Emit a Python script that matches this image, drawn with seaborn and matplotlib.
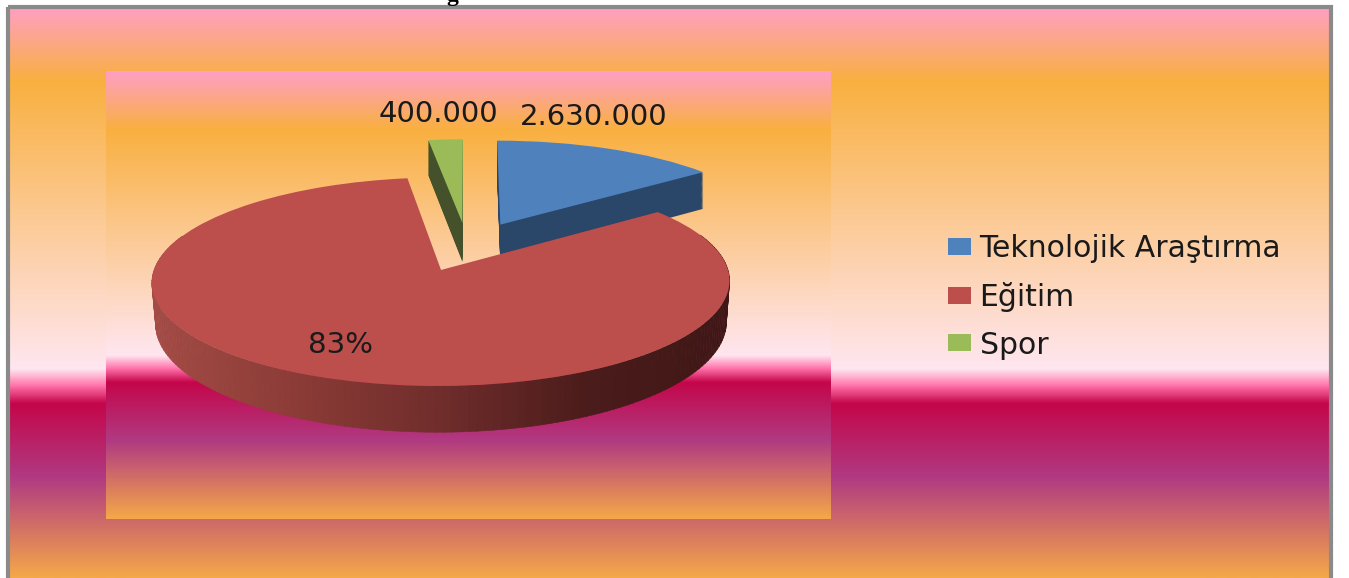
import numpy as np
import matplotlib
matplotlib.use("Agg")
import matplotlib.pyplot as plt
import seaborn as sns
from matplotlib.patches import Polygon, Rectangle, Wedge
from matplotlib.transforms import Transform

categories = ["Teknolojik Araştırma", "Eğitim", "Spor"]
values = [2630000, 14800000, 400000]
value_labels = ["2.630.000", "83%", "400.000"]
top_colors = ["#4F81BD", "#BC4E4C", "#9BBB59"]
wall_colors = ["#2A4668", None, "#44512B"]
red_wall_colors = ["#A34B45", "#8B3B36", "#6F2D2B", "#4B1C1B", "#3F1716"]

# background gradient, shared by the outer panel and the plot area
bg_stops = [(0.0, "#FF9FC4"), (0.13, "#F9B040"), (0.635, "#FFE6F0"),
            (0.665, "#FF6FA8"), (0.695, "#C4064A"), (0.825, "#B03A82"),
            (1.0, "#F5A848")]

W, H = 1349, 578
DEPTH = 40


class PieProjection(Transform):
    """Tilted view of the unit pie, with pixels as output."""
    input_dims = 2
    output_dims = 2

    def __init__(self, drop=0, shrink=0):
        super().__init__()
        self.drop = drop
        self.shrink = shrink

    def transform_non_affine(self, values):
        x, y = np.asarray(values).T
        w = 1 + 0.11 * y
        px = 467.4 + 280 * x / w * (1 - self.shrink * self.drop)
        py = 247.7 - 98 * y / w + self.drop / w
        return np.column_stack([px, py])


sns.set_theme(style="white")
plt.rcParams["font.family"] = ["DejaVu Sans"]

fig = plt.figure(figsize=(W / 100, H / 100), dpi=100)
ax = fig.add_axes([0, 0, 1, 1])

bg_cmap = matplotlib.colors.LinearSegmentedColormap.from_list("bg", bg_stops, N=512)
grad = np.linspace(0, 1, 512).reshape(-1, 1)
outer = ax.imshow(grad, cmap=bg_cmap, extent=(8, 1331, 578, 6), aspect="auto", zorder=0)
inner = ax.imshow(grad, cmap=bg_cmap, extent=(106, 831, 519, 71), aspect="auto", zorder=1)
ax.add_patch(Rectangle((7.5, 6.5), 1323, 580, fill=False, ec="#8A8A8A", lw=3, zorder=2))

wedges, _ = ax.pie(values, colors=top_colors, startangle=90, counterclock=False,
                   explode=[0.27, 0.24, 0.26], radius=1)
proj = PieProjection()
for w in wedges:
    w.set_transform(proj + ax.transData)
    w.set_linewidth(0)

# blue and green side walls are stacks of the same wedge
for i, z in [(0, 4), (2, 4)]:
    w = wedges[i]
    for drop in range(DEPTH, 0, -1):
        ax.add_patch(Wedge(w.center, w.r, w.theta1, w.theta2, color=wall_colors[i],
                           lw=0, zorder=z, transform=PieProjection(drop) + ax.transData))
    w.set_zorder(z + 1)

# red outer wall, shaded in strips from left to right
red = wedges[1]
wall_cmap = sns.blend_palette(red_wall_colors, as_cmap=True)
thetas = np.arange(max(red.theta1, -200), min(red.theta2, 20), 1.5)
low = PieProjection(DEPTH, 0.0003)
for t0 in thetas:
    t = np.radians([t0, t0 + 1.6])
    rim = np.column_stack([red.center[0] + red.r * np.cos(t), red.center[1] + red.r * np.sin(t)])
    pts = np.vstack([proj.transform_non_affine(rim), low.transform_non_affine(rim[::-1])])
    c = wall_cmap((pts[:, 0].mean() - 155) / (730 - 155))
    ax.add_patch(Polygon(pts, closed=True, fc=c, ec=c, lw=0.4, zorder=6))
red.set_zorder(7)

ax.text(594, 117, value_labels[0], ha="center", va="center", fontsize=21, color="#1A1A1A", zorder=8)
ax.text(438, 114, value_labels[2], ha="center", va="center", fontsize=21, color="#1A1A1A", zorder=8)
ax.text(340, 345, value_labels[1], ha="center", va="center", fontsize=21, color="#1A1A1A", zorder=8)

# bottom of a caption line cut off by the picture's top edge
ax.text(452, -5, "g", ha="center", va="center", fontsize=17, fontweight="bold",
        family="Liberation Serif", color="black", zorder=8, clip_on=True)

leg = ax.legend(wedges, categories, loc="upper left", bbox_to_anchor=(933 / W, 1 - 219 / H),
                bbox_transform=fig.transFigure, frameon=False, fontsize=21.5, handlelength=0.76,
                handleheight=0.5, handletextpad=0.3, labelspacing=0.63, borderpad=0, labelcolor="#1A1A1A")
leg.set_zorder(8)

ax.set_aspect("auto")
ax.set_xlim(0, W)
ax.set_ylim(H, 0)
ax.axis("off")

fig.savefig("out.png", dpi=100, facecolor="white")
